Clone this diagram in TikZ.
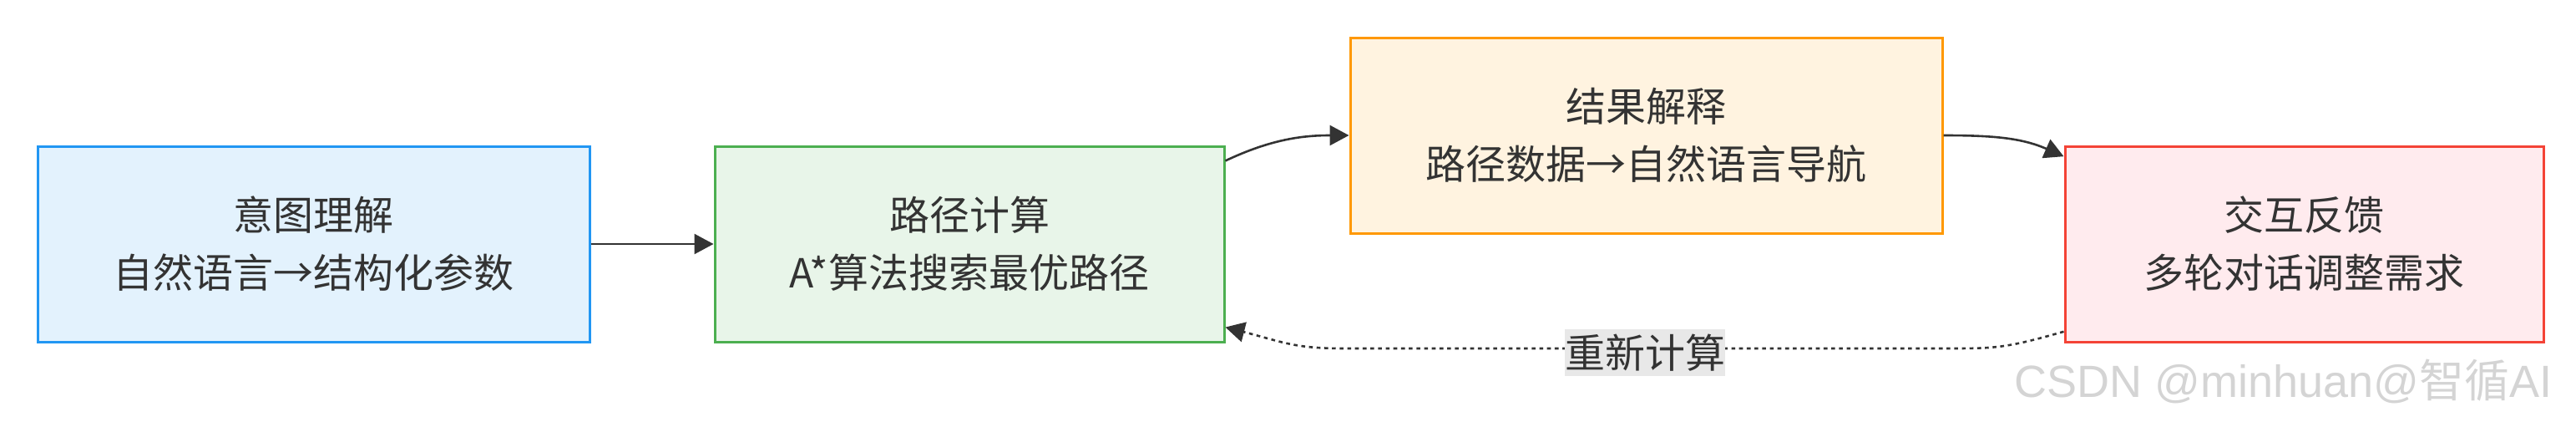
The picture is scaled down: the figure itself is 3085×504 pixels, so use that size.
\documentclass[tikz,border=0pt]{standalone}
\usepackage{fontspec}
\setmainfont{Noto Sans CJK SC}
\newfontfamily\wmfont{Liberation Sans}
\usetikzlibrary{arrows.meta}
\definecolor{txt}{HTML}{333333}
\definecolor{bluef}{HTML}{E3F2FD}\definecolor{blues}{HTML}{2196F3}
\definecolor{greenf}{HTML}{E8F5E9}\definecolor{greens}{HTML}{4CAF50}
\definecolor{orangef}{HTML}{FFF3E0}\definecolor{oranges}{HTML}{FF9800}
\definecolor{redf}{HTML}{FFEBEE}\definecolor{reds}{HTML}{F44336}
\definecolor{lblbg}{HTML}{E8E8E8}
\definecolor{wmgray}{HTML}{D4D4D4}
\begin{document}
\begin{tikzpicture}[x=0.5pt,y=-0.5pt,
  box/.style={draw, line width=1.5pt, minimum height=117pt, align=center, text=txt,
    font=\fontsize{24}{34.5}\selectfont, inner sep=0pt},
  arr/.style={draw=txt, line width=1.3pt, -{Triangle[length=11.5pt,width=12pt]}},
  dotarr/.style={arr, dash pattern=on 2.3pt off 2.3pt},
  lbl/.style={fill=lblbg, text=txt, font=\fontsize{24}{28}\selectfont, inner xsep=0pt, inner ysep=3pt}]
\useasboundingbox (0,0) rectangle (3085,504);
\node[box, draw=blues, fill=bluef, minimum width=330.5pt] (b1) at (375.5,292) {意图理解\\自然语言→结构化参数};
\node[box, draw=greens, fill=greenf, minimum width=305pt] (b2) at (1161,292) {路径计算\\A*算法搜索最优路径};
\node[box, draw=oranges, fill=orangef, minimum width=354.5pt] (b3) at (1971.5,162) {结果解释\\路径数据→自然语言导航};
\node[box, draw=reds, fill=redf, minimum width=286.5pt] (b4) at (2759.5,292) {交互反馈\\多轮对话调整需求};

\draw[arr] (b1.east) -- (b2.west);
\draw[arr] (b2.18) .. controls +(55,-26) and +(-55,0) .. (b3.west);
\draw[arr] (b3.east) .. controls +(60,0) and +(-50,-22) .. (b4.160);

\coordinate (m1) at (2330,417);
\coordinate (m2) at (1610,417);
\draw[dotarr] (b4.200) .. controls +(-70,20) and +(60,0) .. (m1) -- (m2) .. controls +(-60,0) and +(70,18) .. (b2.-18);
\node[lbl] (l1) at (1970,422) {重新计算};

\node[anchor=west, text=wmgray, inner sep=0pt] (wm) at (2412,456)
  {\fontsize{27}{30}\selectfont\wmfont CSDN @minhuan@\rmfamily 智循\wmfont AI};
\end{tikzpicture}
\end{document}
